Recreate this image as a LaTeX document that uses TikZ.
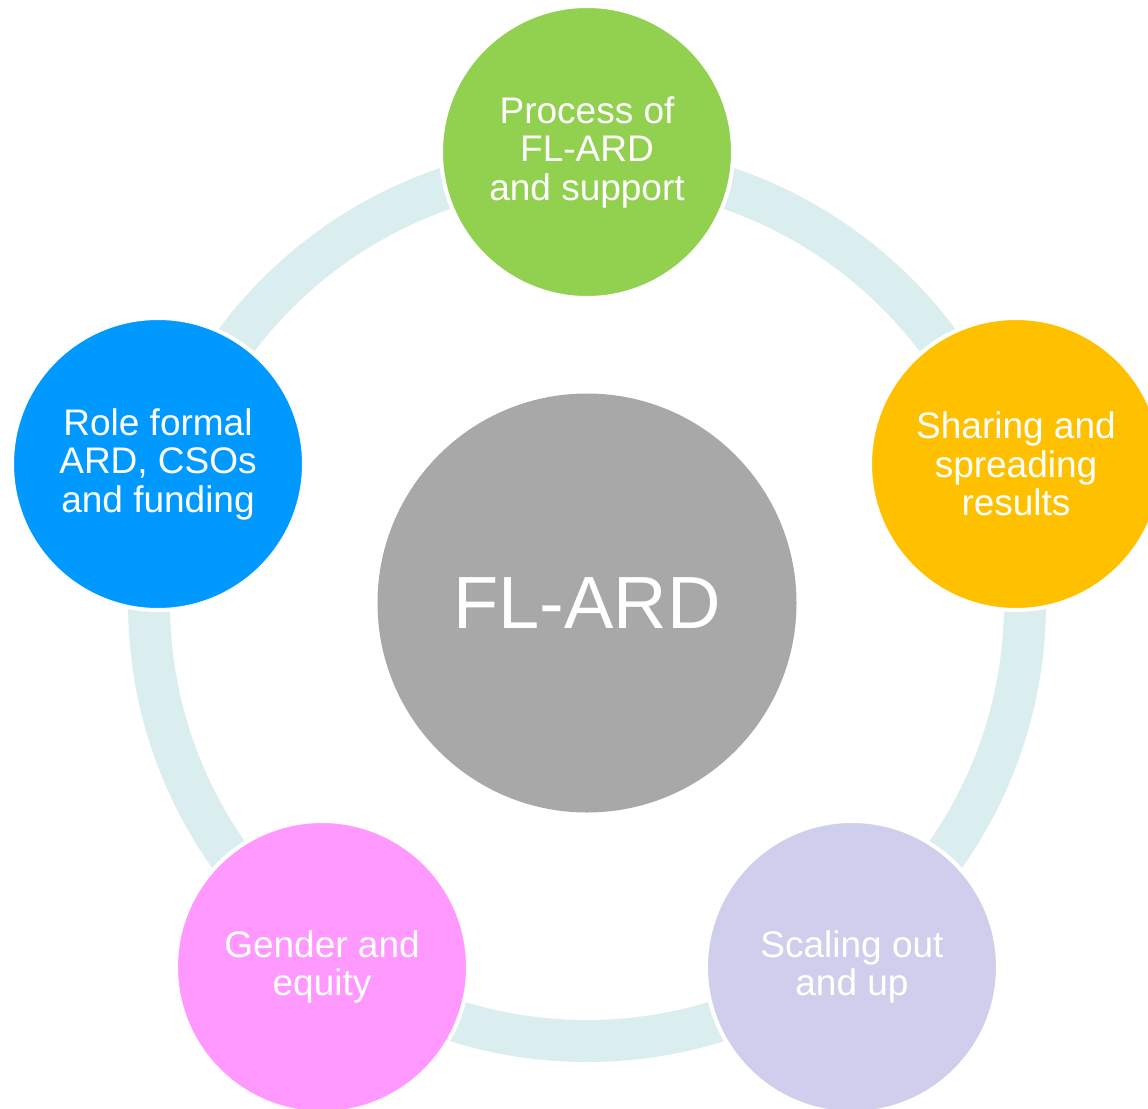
\documentclass[tikz,border=0pt]{standalone}
\usepackage{fontspec}
\setmainfont{Liberation Sans}
\usepackage{tikz}
\usetikzlibrary{calc}
\usetikzlibrary{positioning}

\definecolor{ringblue}{HTML}{DAEDEF}
\definecolor{hubgrey}{HTML}{A8A8A8}
\definecolor{petalgreen}{HTML}{92D050}
\definecolor{petalorange}{HTML}{FFC000}
\definecolor{petallilac}{HTML}{CFCFED}
\definecolor{petalpink}{HTML}{FF99FF}
\definecolor{petalblue}{HTML}{0099FF}

\begin{document}
\begin{tikzpicture}[x=1pt,y=-1pt]
\tikzstyle{hub}=[circle,align=center,inner sep=0pt,minimum size=419pt,fill=hubgrey,text=white,font=\fontsize{74}{80}\selectfont]
\tikzstyle{petal}=[circle,align=center,inner sep=0pt,minimum size=292pt,draw=white,line width=4pt,text=white,font=\fontsize{37}{38.5}\selectfont]
\tikzstyle{ring}=[draw=ringblue,line width=42pt]
\useasboundingbox (0,0) rectangle (1148,1108);
\clip (0,0) rectangle (1148,1108);
\node[hub] at(587, 603) (core) {FL-ARD};
\draw[ring] (core.center) circle[radius=438pt];
\node[petal,fill=petalgreen] at(587, 152) (process) {Process of\\
                         FL-ARD\\
                         and support};
\node[petal,fill=petalorange] at(1016, 464) (sharing) {Sharing and\\
                         spreading\\
                         results};
\node[petal,fill=petallilac] at(852, 967) (scaling) {Scaling out\\
                         and up};
\node[petal,fill=petalpink] at(322, 967) (gender) {Gender and\\
                         equity};
\node[petal,fill=petalblue] at(158, 464) (role) {Role formal\\
                         ARD, CSOs\\
                         and funding};
\end{tikzpicture}
\end{document}
